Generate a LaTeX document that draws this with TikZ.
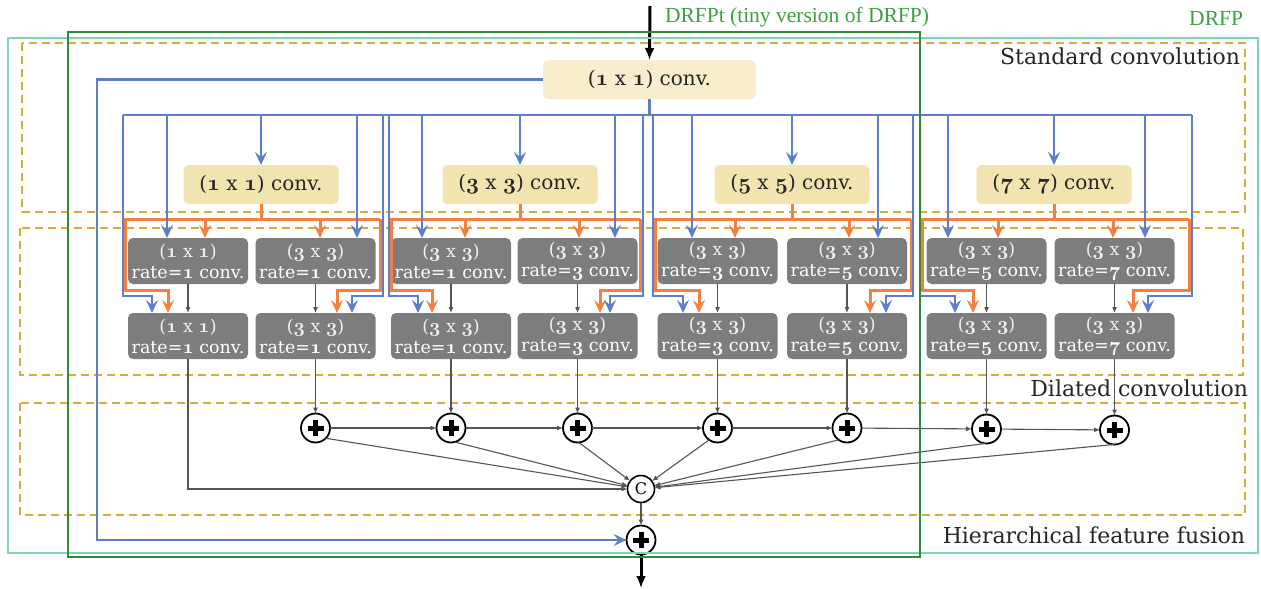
\RequirePackage{fix-cm}
\documentclass[tikz,border=0pt]{standalone}
\usepackage{fontspec}
\setmainfont{DejaVu Serif}
\newfontfamily\timesfont{Liberation Serif}
\usetikzlibrary{arrows.meta}
\definecolor{cblue}{RGB}{92,126,204}
\definecolor{corange}{RGB}{242,128,62}
\definecolor{cbeige}{RGB}{242,228,176}
\definecolor{cbeigetop}{RGB}{248,238,206}
\definecolor{cgray}{RGB}{125,125,128}
\definecolor{cgold}{RGB}{214,172,60}
\definecolor{cteal}{RGB}{130,212,182}
\definecolor{cgreen}{RGB}{48,138,60}
\definecolor{clabel}{RGB}{62,158,66}
\definecolor{cline}{RGB}{85,85,85}
\makeatletter
\newcommand\osn[1]{{\@tempdima=\f@size pt\relax\@tempdima=1.12\@tempdima\edef\osnsize{\strip@pt\@tempdima}\fontsize{\osnsize}{\f@baselineskip}\usefont{OML}{cmm}{b}{it}#1}}
\makeatother
\begin{document}
\begin{tikzpicture}[x=1pt,y=-1pt,
  every node/.style={inner sep=0pt, outer sep=0pt},
  beige/.style={fill=cbeige, rounded corners=5pt, minimum width=155pt, minimum height=39pt, font=\fontsize{20}{22}\selectfont, text=black!85},
  graybox/.style={fill=cgray, rounded corners=5pt, minimum width=120pt, minimum height=46pt, text=white, align=center, font=\fontsize{17.5}{21}\selectfont},
  bl/.style={draw=cblue, line width=2.8pt},
  orl/.style={draw=corange, line width=3pt},
  barb/.style={-{Stealth[length=13pt,width=12pt,inset=5pt]}},
  thinarr/.style={draw=cline, line width=1.1pt, -{Latex[length=6pt,width=5pt]}},
  plusnode/.style={circle, draw=black, line width=1.8pt, minimum size=29pt, fill=white,
    path picture={\draw[black,line width=5pt] ([xshift=-8pt]path picture bounding box.center) -- ([xshift=8pt]path picture bounding box.center);
                  \draw[black,line width=5pt] ([yshift=-8pt]path picture bounding box.center) -- ([yshift=8pt]path picture bounding box.center);}},
  catnode/.style={circle, draw=black, line width=1.6pt, minimum size=27pt, fill=white, font=\fontsize{16}{16}\selectfont},
  dashbox/.style={draw=cgold, line width=1.8pt, dash pattern=on 8pt off 5pt},
  lbl/.style={font=\fontsize{22}{24}\selectfont, anchor=east, text=black!85},
  glbl/.style={font=\timesfont\fontsize{21.5}{23}\selectfont, text=clabel}
]
\useasboundingbox (0,0) rectangle (1261,589);

% dashed section boxes
\draw[dashbox] (22,43) rectangle (1245,212);
\draw[dashbox] (20,228) rectangle (1243,375);
\draw[dashbox] (20,403) rectangle (1245,515);

% top conv
\node[beige, fill=cbeigetop, minimum width=213pt] (top) at (649.5,79.5) {(\osn{1} x \osn{1}) conv.};
\coordinate (in) at (650,6);
\draw[line width=3pt, -{Latex[length=12pt,width=10pt]}] (in) -- (top.north);

% group conv boxes
\node[beige] (c1) at (261,184.5) {(\osn{1} x \osn{1}) conv.};
\node[beige] (c2) at (520,184.5) {(\osn{3} x \osn{3}) conv.};
\node[beige] (c3) at (792,184.5) {(\osn{5} x \osn{5}) conv.};
\node[beige] (c4) at (1054,184.5) {(\osn{7} x \osn{7}) conv.};

% dilated rows
\foreach \n/\x/\k/\r in {1l/188/1/1, 1r/315.5/3/1, 2l/451/3/1, 2r/577.5/3/3, 3l/717.5/3/3, 3r/847/3/5, 4l/986.5/3/5, 4r/1114.5/3/7}{
  \node[graybox] (u\n) at (\x,261) {{\color{white!88!cgray}(\osn{\k} x \osn{\k})}\\rate=\osn{\r} conv.};
  \node[graybox] (d\n) at (\x,336) {{\color{white!88!cgray}(\osn{\k} x \osn{\k})}\\rate=\osn{\r} conv.};
  \draw[thinarr] (u\n) -- (d\n);
}

% orange and blue routing per group
\foreach \g/\BL/\OL/\OR/\BR/\ba/\oa/\ob/\bb/\bc/\oc/\od/\bd in {
  1/123/125/380/383/167/205/320/357/152/168/337/352,
  2/389/391/640/643/422/465/579/615/418/432/600/610,
  3/653/655/911/913/692/735/849/878/683/699/870/886,
  4/920/922/1189/1192/948/998/1113/1145/955/973/1133/1148}{
  \draw[orl] (c\g.south) -- (c\g.south |- 0,219);
  \draw[orl,barb] (\OR,219) -- (\OR,290) -- (\od,290) -- (\od,0 |- d\g r.north);
  \draw[orl,barb] (\OR,219) -- (\OL,219) -- (\OL,290) -- (\oc,290) -- (\oc,0 |- d\g l.north);
  \draw[orl,barb] (\oa,219) -- (\oa,0 |- u\g l.north);
  \draw[orl,barb] (\ob,219) -- (\ob,0 |- u\g r.north);
  \draw[bl,barb] (\BL,115) -- (\BL,296) -- (\bc,296) -- (\bc,0 |- d\g l.north);
  \draw[bl,barb] (\BR,115) -- (\BR,296) -- (\bd,296) -- (\bd,0 |- d\g r.north);
  \draw[bl,barb] (\ba,115) -- (\ba,0 |- u\g l.north);
  \draw[bl,barb] (\bb,115) -- (\bb,0 |- u\g r.north);
  \draw[bl,barb] (c\g.north |- 0,115) -- (c\g.north);
}
% blue bus
\draw[bl] (top.south) -- (top.south |- 0,115);
\draw[bl] (123,115) -- (1192,115);

% hierarchical fusion
\node[plusnode] (p1) at (d1r.center |- 0,428) {};
\node[plusnode] (p2) at (d2l.center |- 0,428) {};
\node[plusnode] (p3) at (d2r.center |- 0,428) {};
\node[plusnode] (p4) at (d3l.center |- 0,428) {};
\node[plusnode] (p5) at (d3r.center |- 0,428) {};
\node[plusnode] (p6) at (d4l.center |- 0,429) {};
\node[plusnode] (p7) at (d4r.center |- 0,430) {};
\node[catnode] (C) at (641,489) {C};
\node[plusnode] (F) at (641,540) {};

\draw[thinarr] (d1r) -- (p1);
\draw[thinarr] (d2l) -- (p2);
\draw[thinarr] (d2r) -- (p3);
\draw[thinarr] (d3l) -- (p4);
\draw[thinarr] (d3r) -- (p5);
\draw[thinarr] (d4l) -- (p6);
\draw[thinarr] (d4r) -- (p7);
\draw[thinarr] (p1) -- (p2);
\draw[thinarr] (p2) -- (p3);
\draw[thinarr] (p3) -- (p4);
\draw[thinarr] (p4) -- (p5);
\draw[thinarr] (p5) -- (p6);
\draw[thinarr] (p6) -- (p7);
\draw[thinarr] (d1l.south) |- (C);
\draw[thinarr] (p1.-45) -- (C);
\draw[thinarr] (p2.-75) -- (C);
\draw[thinarr] (p3.-85) -- (C);
\draw[thinarr] (p4.-125) -- (C);
\draw[thinarr] (p5.-125) -- (C);
\draw[thinarr] (p6.-95) -- (C);
\draw[thinarr] (p7.-92) -- (C);
\draw[thinarr] (C) -- (F);

% residual
\draw[bl,barb] (top.west) -| (97,540) -- (F);

% output
\coordinate (out) at (641,588);
\draw[line width=3pt, -{Latex[length=12pt,width=10pt]}] (F) -- (out);

% frames
\draw[cteal, line width=1.6pt] (8,38) rectangle (1258,553);
\draw[cgreen, line width=1.8pt] (68,32) rectangle (920,557);

% labels
\node[lbl] (ls) at (1240,56) {Standard convolution};
\node[lbl] (ld) at (1248,388) {Dilated convolution};
\node[lbl] (lh) at (1245,535) {Hierarchical feature fusion};
\node[glbl, anchor=west] (lt) at (665,17) {DRFPt (tiny version of DRFP)};
\node[glbl, anchor=east] (lf) at (1243,18) {DRFP};
\end{tikzpicture}
\end{document}
